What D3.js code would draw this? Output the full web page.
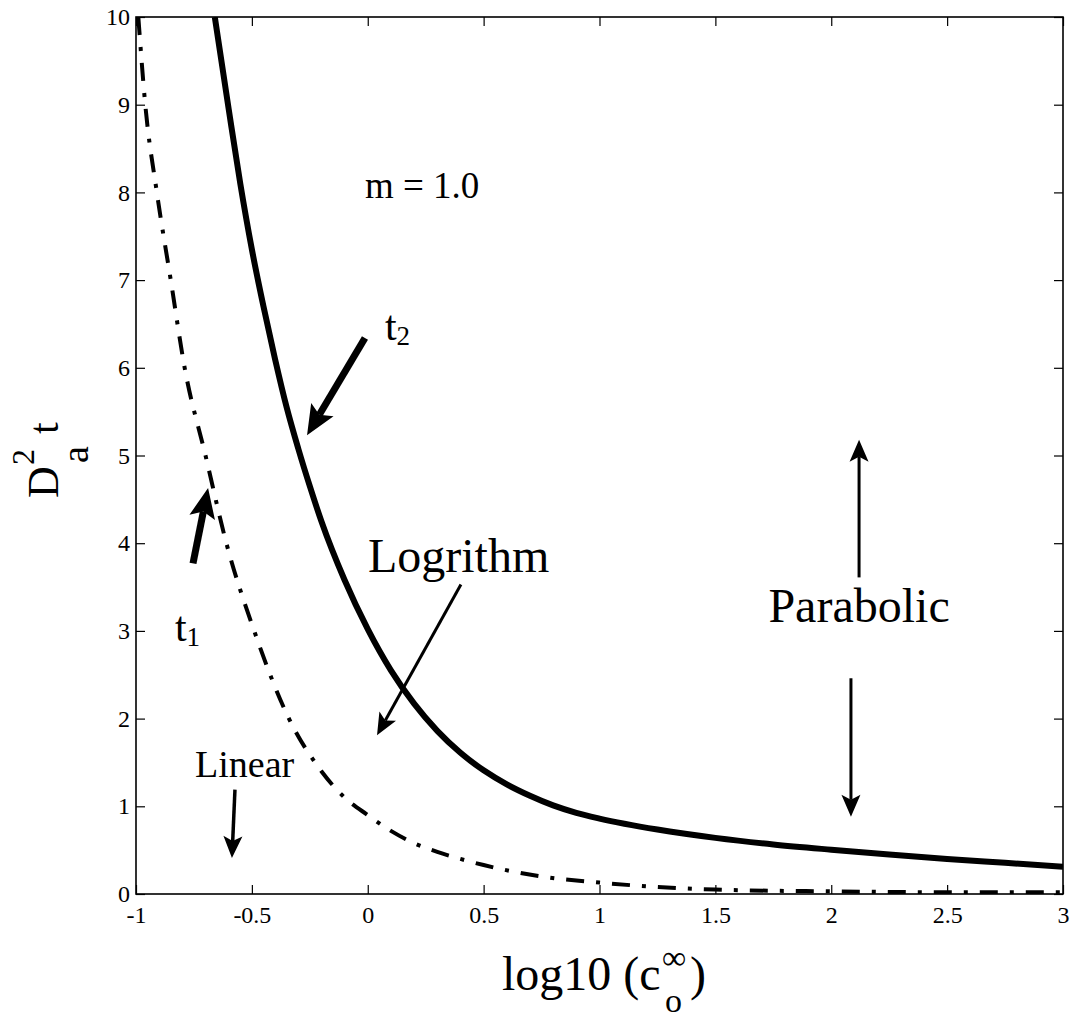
<!DOCTYPE html>
<html>
<head>
<meta charset="utf-8">
<script src="https://cdn.jsdelivr.net/npm/d3@7"></script>
<style>
  body { margin: 0; background: #fff; }
  svg { font-family: "Liberation Serif", "Times New Roman", serif; }
</style>
</head>
<body>
<script>
// t2 curve (solid)
var t2X = [-0.66, -0.60, -0.55, -0.50, -0.45, -0.40, -0.35, -0.30, -0.25, -0.20, -0.10, 0.0, 0.1, 0.2, 0.3, 0.4, 0.5, 0.6, 0.7, 0.8, 0.9, 1.0, 1.25, 1.5, 1.75, 2.0, 2.25, 2.5, 2.75, 3.0];
var t2Y = [10.0, 8.95, 8.1, 7.35, 6.7, 6.1, 5.55, 5.08, 4.65, 4.25, 3.58, 3.02, 2.55, 2.17, 1.86, 1.61, 1.41, 1.25, 1.12, 1.01, 0.925, 0.86, 0.735, 0.64, 0.565, 0.505, 0.45, 0.40, 0.355, 0.31];

// t1 curve (dash-dot)
var t1X = [-0.99, -0.96, -0.91, -0.85, -0.79, -0.70, -0.61, -0.49, -0.34, -0.2, -0.1, 0.0, 0.1, 0.2, 0.3, 0.4, 0.5, 0.75, 1.0, 1.25, 1.5, 2.0, 2.5, 3.0];
var t1Y = [10.0, 9.0, 8.0, 7.0, 6.0, 5.0, 4.0, 3.0, 2.0, 1.4, 1.1, 0.9, 0.72, 0.58, 0.48, 0.40, 0.33, 0.2, 0.13, 0.08, 0.05, 0.03, 0.02, 0.02];

var xTicks = [-1, -0.5, 0, 0.5, 1, 1.5, 2, 2.5, 3];
var yTicks = [0, 1, 2, 3, 4, 5, 6, 7, 8, 9, 10];

// annotation arrows [x0, y0, x1(tip), y1(tip), kind]
var arrows = [
  [-0.012, 6.34, -0.262, 5.23, "thick"],
  [-0.754, 3.77, -0.689, 4.63, "thick"],
  [0.402, 3.53, 0.04, 1.81, "thin"],
  [2.12, 3.61, 2.12, 5.18, "thin"],
  [2.085, 2.46, 2.085, 0.88, "thin"],
  [-0.573, 1.19, -0.586, 0.41, "mid"]
];
// plain text labels [text, x, y, size]
var notes = [
  ["m = 1.0", -0.012, 7.94, 37],
  ["Logrithm", 0.001, 3.67, 48],
  ["Linear", -0.745, 1.33, 38]
];

var W = 1073, H = 1024;
var margin = {top: 17, left: 136};
var width = 1063 - margin.left,
    height = 894 - margin.top;

var svg = d3.select("body").append("svg")
  .attr("width", W)
  .attr("height", H);

var g = svg.append("g")
  .attr("transform", "translate(" + margin.left + "," + margin.top + ")");

var x = d3.scaleLinear().domain([-1, 3]).range([0, width]);
var y = d3.scaleLinear().domain([0, 10]).range([height, 0]);

var fmt = function(d) { return String(d); };

// axes with inward ticks, box style
g.append("g")
  .attr("transform", "translate(0," + height + ")")
  .call(d3.axisBottom(x).tickValues(xTicks).tickSize(-9).tickPadding(12).tickFormat(fmt))
  .call(function(a) { a.select(".domain").remove(); });
g.append("g")
  .call(d3.axisLeft(y).tickValues(yTicks).tickSize(-9).tickPadding(6).tickFormat(fmt))
  .call(function(a) { a.select(".domain").remove(); });
g.append("g")
  .call(d3.axisTop(x).tickValues(xTicks).tickSize(-9).tickFormat(""))
  .call(function(a) { a.select(".domain").remove(); });
g.append("g")
  .attr("transform", "translate(" + width + ",0)")
  .call(d3.axisRight(y).tickValues(yTicks).tickSize(-9).tickFormat(""))
  .call(function(a) { a.select(".domain").remove(); });

g.selectAll(".tick line").attr("stroke", "#000").attr("stroke-width", 1.2);
g.selectAll(".tick text")
  .style("font-family", "'Liberation Serif', serif")
  .style("font-size", "24px")
  .attr("fill", "#000");

g.append("rect")
  .attr("width", width).attr("height", height)
  .attr("fill", "none").attr("stroke", "#000").attr("stroke-width", 1.6);

g.append("clipPath").attr("id", "clip")
  .append("rect").attr("width", width).attr("height", height);

var line = d3.line()
  .x(function(d) { return x(d[0]); })
  .y(function(d) { return y(d[1]); })
  .curve(d3.curveMonotoneX);

var t2 = t2X.map(function(v, i) { return [v, t2Y[i]]; });
var t1 = t1X.map(function(v, i) { return [v, t1Y[i]]; });

g.append("path")
  .datum(t1)
  .attr("clip-path", "url(#clip)")
  .attr("d", line)
  .attr("fill", "none")
  .attr("stroke", "#000")
  .attr("stroke-width", 4)
  .attr("stroke-dasharray", "18,12,4,12");

g.append("path")
  .datum(t2)
  .attr("clip-path", "url(#clip)")
  .attr("d", line)
  .attr("fill", "none")
  .attr("stroke", "#000")
  .attr("stroke-width", 6)
  .attr("stroke-linejoin", "round");

// arrows
arrows.forEach(function(a) {
  var x0 = x(a[0]), y0 = y(a[1]), x1 = x(a[2]), y1 = y(a[3]);
  var thick = a[4] == "thick";
  var len = thick ? 30 : 22, half = thick ? 13 : 9.5, notch = thick ? 6 : 5;
  var sw = thick ? 7 : (a[4] == "mid" ? 3.5 : 3);
  var dx = x1 - x0, dy = y1 - y0, L = Math.sqrt(dx * dx + dy * dy);
  var ux = dx / L, uy = dy / L, px = -uy, py = ux;
  var bx = x1 - ux * len, by = y1 - uy * len;
  var nx = x1 - ux * (len - notch), ny = y1 - uy * (len - notch);
  g.append("line")
    .attr("x1", x0).attr("y1", y0)
    .attr("x2", nx).attr("y2", ny)
    .attr("stroke", "#000")
    .attr("stroke-width", sw);
  g.append("path")
    .attr("d", "M" + x1 + "," + y1 +
      "L" + (bx + px * half) + "," + (by + py * half) +
      "L" + nx + "," + ny +
      "L" + (bx - px * half) + "," + (by - py * half) + "Z")
    .attr("fill", "#000");
});

// text notes
g.selectAll(".note")
  .data(notes)
  .enter().append("text")
  .attr("class", "note")
  .attr("x", function(d) { return x(d[1]); })
  .attr("y", function(d) { return y(d[2]); })
  .attr("font-size", function(d) { return d[3]; })
  .text(function(d) { return d[0]; });

g.append("text")
  .attr("x", x(2.12)).attr("y", y(3.10))
  .attr("text-anchor", "middle")
  .attr("font-size", 48)
  .text("Parabolic");

// t2 and t1 labels
var tl = g.append("text").attr("x", x(0.074)).attr("y", y(6.32)).attr("font-size", 42);
tl.append("tspan").text("t");
tl.append("tspan").attr("font-size", 27).attr("dy", 5).text("2");
var tl1 = g.append("text").attr("x", x(-0.832)).attr("y", y(2.88)).attr("font-size", 42);
tl1.append("tspan").text("t");
tl1.append("tspan").attr("font-size", 27).attr("dy", 5).text("1");

// y label D_a^2 t
var yl = svg.append("text")
  .attr("transform", "translate(58,498) rotate(-90)")
  .attr("font-size", 44);
yl.append("tspan").attr("x", 0).attr("y", 0).text("D");
yl.append("tspan").attr("x", 33).attr("y", -24).attr("font-size", 32).text("2");
yl.append("tspan").attr("x", 35).attr("y", 30).attr("font-size", 38).text("a");
yl.append("tspan").attr("x", 64).attr("y", 0).attr("font-size", 42).text("t");

// x label log10 (c_o^inf)
var xl = svg.append("text").attr("font-size", 48);
xl.append("tspan").attr("x", 502).attr("y", 990).text("log10 (c");
xl.append("tspan").attr("x", 662).attr("y", 969).attr("font-size", 34).text("\u221E");
xl.append("tspan").attr("x", 665).attr("y", 1012).attr("font-size", 34).text("o");
xl.append("tspan").attr("x", 690).attr("y", 990).text(")");
</script>
</body>
</html>
